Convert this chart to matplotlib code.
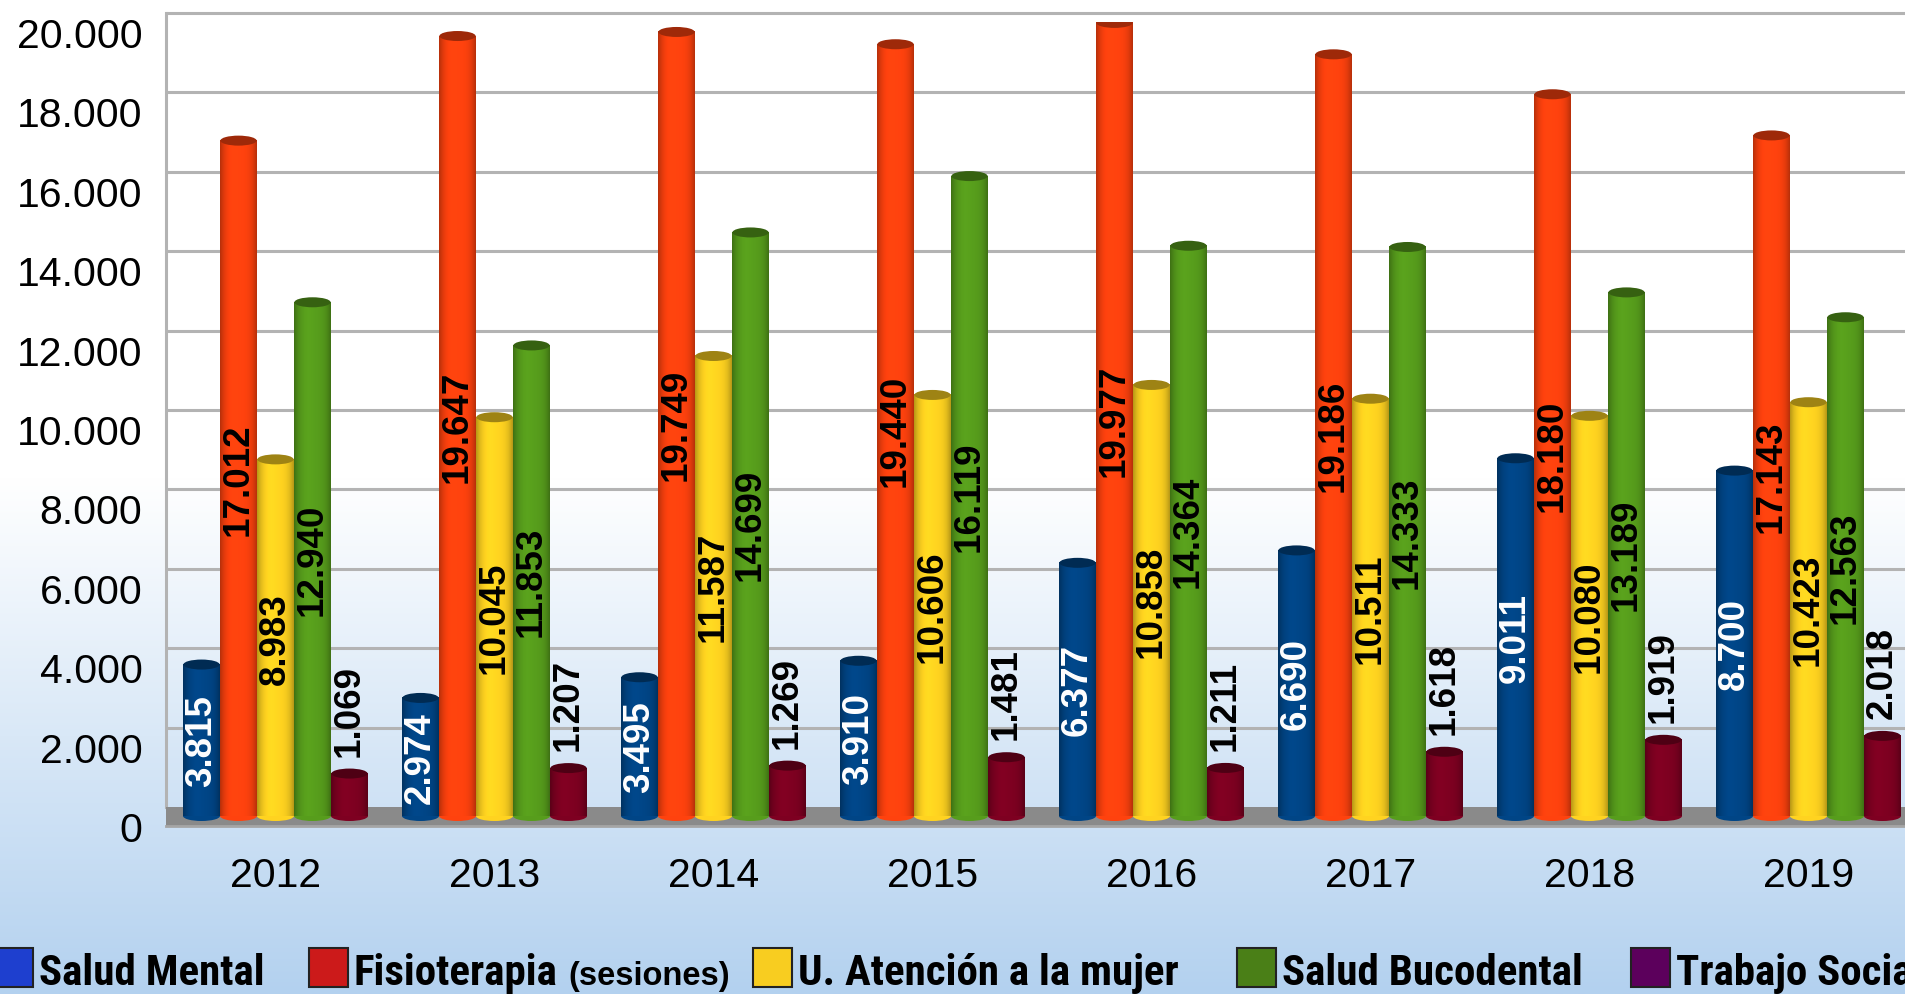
import numpy as np
import matplotlib
matplotlib.use("Agg")
import matplotlib.pyplot as plt
from matplotlib.patches import Ellipse, Rectangle
from matplotlib.transforms import ScaledTranslation
from matplotlib.colors import to_rgb

# data
years = ['2012', '2013', '2014', '2015', '2016', '2017', '2018', '2019']
salud_mental = [3815, 2974, 3495, 3910, 6377, 6690, 9011, 8700]
fisioterapia = [17012, 19647, 19749, 19440, 19977, 19186, 18180, 17143]
atencion_mujer = [8983, 10045, 11587, 10606, 10858, 10511, 10080, 10423]
salud_bucodental = [12940, 11853, 14699, 16119, 14364, 14333, 13189, 12563]
trabajo_social = [1069, 1207, 1269, 1481, 1211, 1618, 1919, 2018]

series = [salud_mental, fisioterapia, atencion_mujer, salud_bucodental, trabajo_social]
bar_colors = ['#004586', '#ff420e', '#ffd320', '#579d1c', '#7e0021']
label_colors = ['white', 'black', 'black', 'black', 'black']
legend_names = ['Salud Mental', 'Fisioterapia', 'U. Atención a la mujer',
                'Salud Bucodental', 'Trabajo Social']
legend_colors = ['#1e3fcf', '#cc1a1a', '#f8cd20', '#4a7f17', '#5c005c']
yticks = list(range(0, 20001, 2000))

W, H = 1906, 995
DPI = 100
fig = plt.figure(figsize=(W / DPI, H / DPI), dpi=DPI)

# page background gradient (white top, light blue bottom)
bg = fig.add_axes([0, 0, 1, 1], zorder=-10)
rows = np.linspace(0, 1, 400)
t = np.clip((rows * H - 480) / (H - 480), 0, 1)
top = np.array([1.0, 1.0, 1.0])
bot = np.array(to_rgb('#b3d1ef'))
grad = (top[None, :] * (1 - t[:, None]) + bot[None, :] * t[:, None])[:, None, :]
bg.imshow(grad, aspect='auto', extent=[0, 1, 0, 1], origin='upper')
bg.set_axis_off()


def px(x):
    return x / DPI


ax_left, ax_bottom_px, ax_h_px = 166, 817, 794
ax = fig.add_axes([ax_left / W, (H - ax_bottom_px) / H, 1752 / W, ax_h_px / H])
ax.set_facecolor('none')
for s in ax.spines.values():
    s.set_visible(False)
ax.set_xlim(-0.5, 7.5)
ax.set_ylim(0, 20000)

# back wall gridlines (shifted up, 3D look)
up = ScaledTranslation(0, px(9), fig.dpi_scale_trans)
grid_tr = ax.get_yaxis_transform() + up
for v in yticks[1:]:
    ax.plot([0, 1], [v, v], color='#b3b3b3', lw=2.2, transform=grid_tr,
            clip_on=False, zorder=0, solid_capstyle='butt')
ax.plot([0, 0], [0, 20000], color='#b3b3b3', lw=2.2, transform=grid_tr,
        clip_on=False, zorder=0)
# floor
ax.add_patch(Rectangle((0, -10 / ax_h_px), 1, 19 / ax_h_px, transform=ax.transAxes,
                       facecolor='#8a8a8a', edgecolor='none', clip_on=False, zorder=1))
ax.plot([0, 1], [-10 / ax_h_px] * 2, color='#a5a5a5', lw=2, transform=ax.transAxes,
        clip_on=False, zorder=1)

bw = 37 / 219
cap_h = 10 / ax_h_px * 20000
u = np.linspace(0, 1, 48)
shade = 1 - 0.28 * np.abs(2 * u - 1) ** 3.5 + 0.04 * np.exp(-((u - 0.38) / 0.18) ** 2)

x = np.arange(len(years))
for i, (vals, col, lcol) in enumerate(zip(series, bar_colors, label_colors)):
    rgb = np.array(to_rgb(col))
    img = np.clip(rgb[None, :] * shade[:, None], 0, 1)[None, :, :]
    cap = rgb * 0.62
    for xi, v in zip(x, vals):
        xc = xi + (i - 2) * bw
        ax.add_patch(Ellipse((xc, 0), bw, cap_h, facecolor=img[0, 12], edgecolor='none',
                             clip_on=False, zorder=2))
        ax.imshow(img, extent=[xc - bw / 2, xc + bw / 2, 0, v], aspect='auto',
                  interpolation='bilinear', zorder=3)
        ax.add_patch(Ellipse((xc, v), bw * 0.98, cap_h, facecolor=cap, edgecolor='none',
                             zorder=4))
        txt = f"{v:,}".replace(',', '.')
        if v > 2500:
            ax.text(xc, v / 2, txt, rotation=90, ha='center', va='center', color=lcol,
                    fontsize=26.5, fontweight='bold', family='Liberation Sans', zorder=5)
        else:
            ax.annotate(txt, (xc, v), xytext=(0, 13), textcoords='offset points',
                        rotation=90, ha='center', va='bottom', color=lcol,
                        fontsize=26.5, fontweight='bold', family='Liberation Sans', zorder=5)

ax.set_xlim(-0.5, 7.5)
ax.set_ylim(0, 20000)
ax.set_xticks(x, years)
ax.set_yticks(yticks, [f"{v:,}".replace(',', '.') for v in yticks])
ax.tick_params(length=0, labelsize=29.5)
ax.tick_params(axis='x', pad=29)
ax.tick_params(axis='y', pad=17)
for lab in ax.get_xticklabels() + ax.get_yticklabels():
    lab.set_family('Liberation Sans')
down = ScaledTranslation(0, -px(10), fig.dpi_scale_trans)
for lab in ax.get_yticklabels():
    lab.set_transform(lab.get_transform() + down)

# legend along the bottom
leg_x = [-6, 309, 753, 1237, 1631]
leg_font = ['Roboto Condensed', 'Liberation Sans']
renderer = fig.canvas.get_renderer()
leg_texts = []
for name, col, lx in zip(legend_names, legend_colors, leg_x):
    fig.add_artist(Rectangle((lx / W, (H - 988) / H), 39 / W, 39 / H, transform=fig.transFigure,
                             facecolor=col, edgecolor='#222222', lw=1.5))
    leg_texts.append(fig.text((lx + 45) / W, (H - 985) / H, name, ha='left', va='baseline',
                              fontsize=31, fontweight='bold', family=leg_font))
fis_end = leg_texts[1].get_window_extent(renderer).x1
fig.text((fis_end + 10) / W, (H - 985) / H, '(sesiones)', ha='left', va='baseline',
         fontsize=23.5, fontweight='bold', family='Liberation Sans')

fig.savefig('out.png', dpi=DPI)
